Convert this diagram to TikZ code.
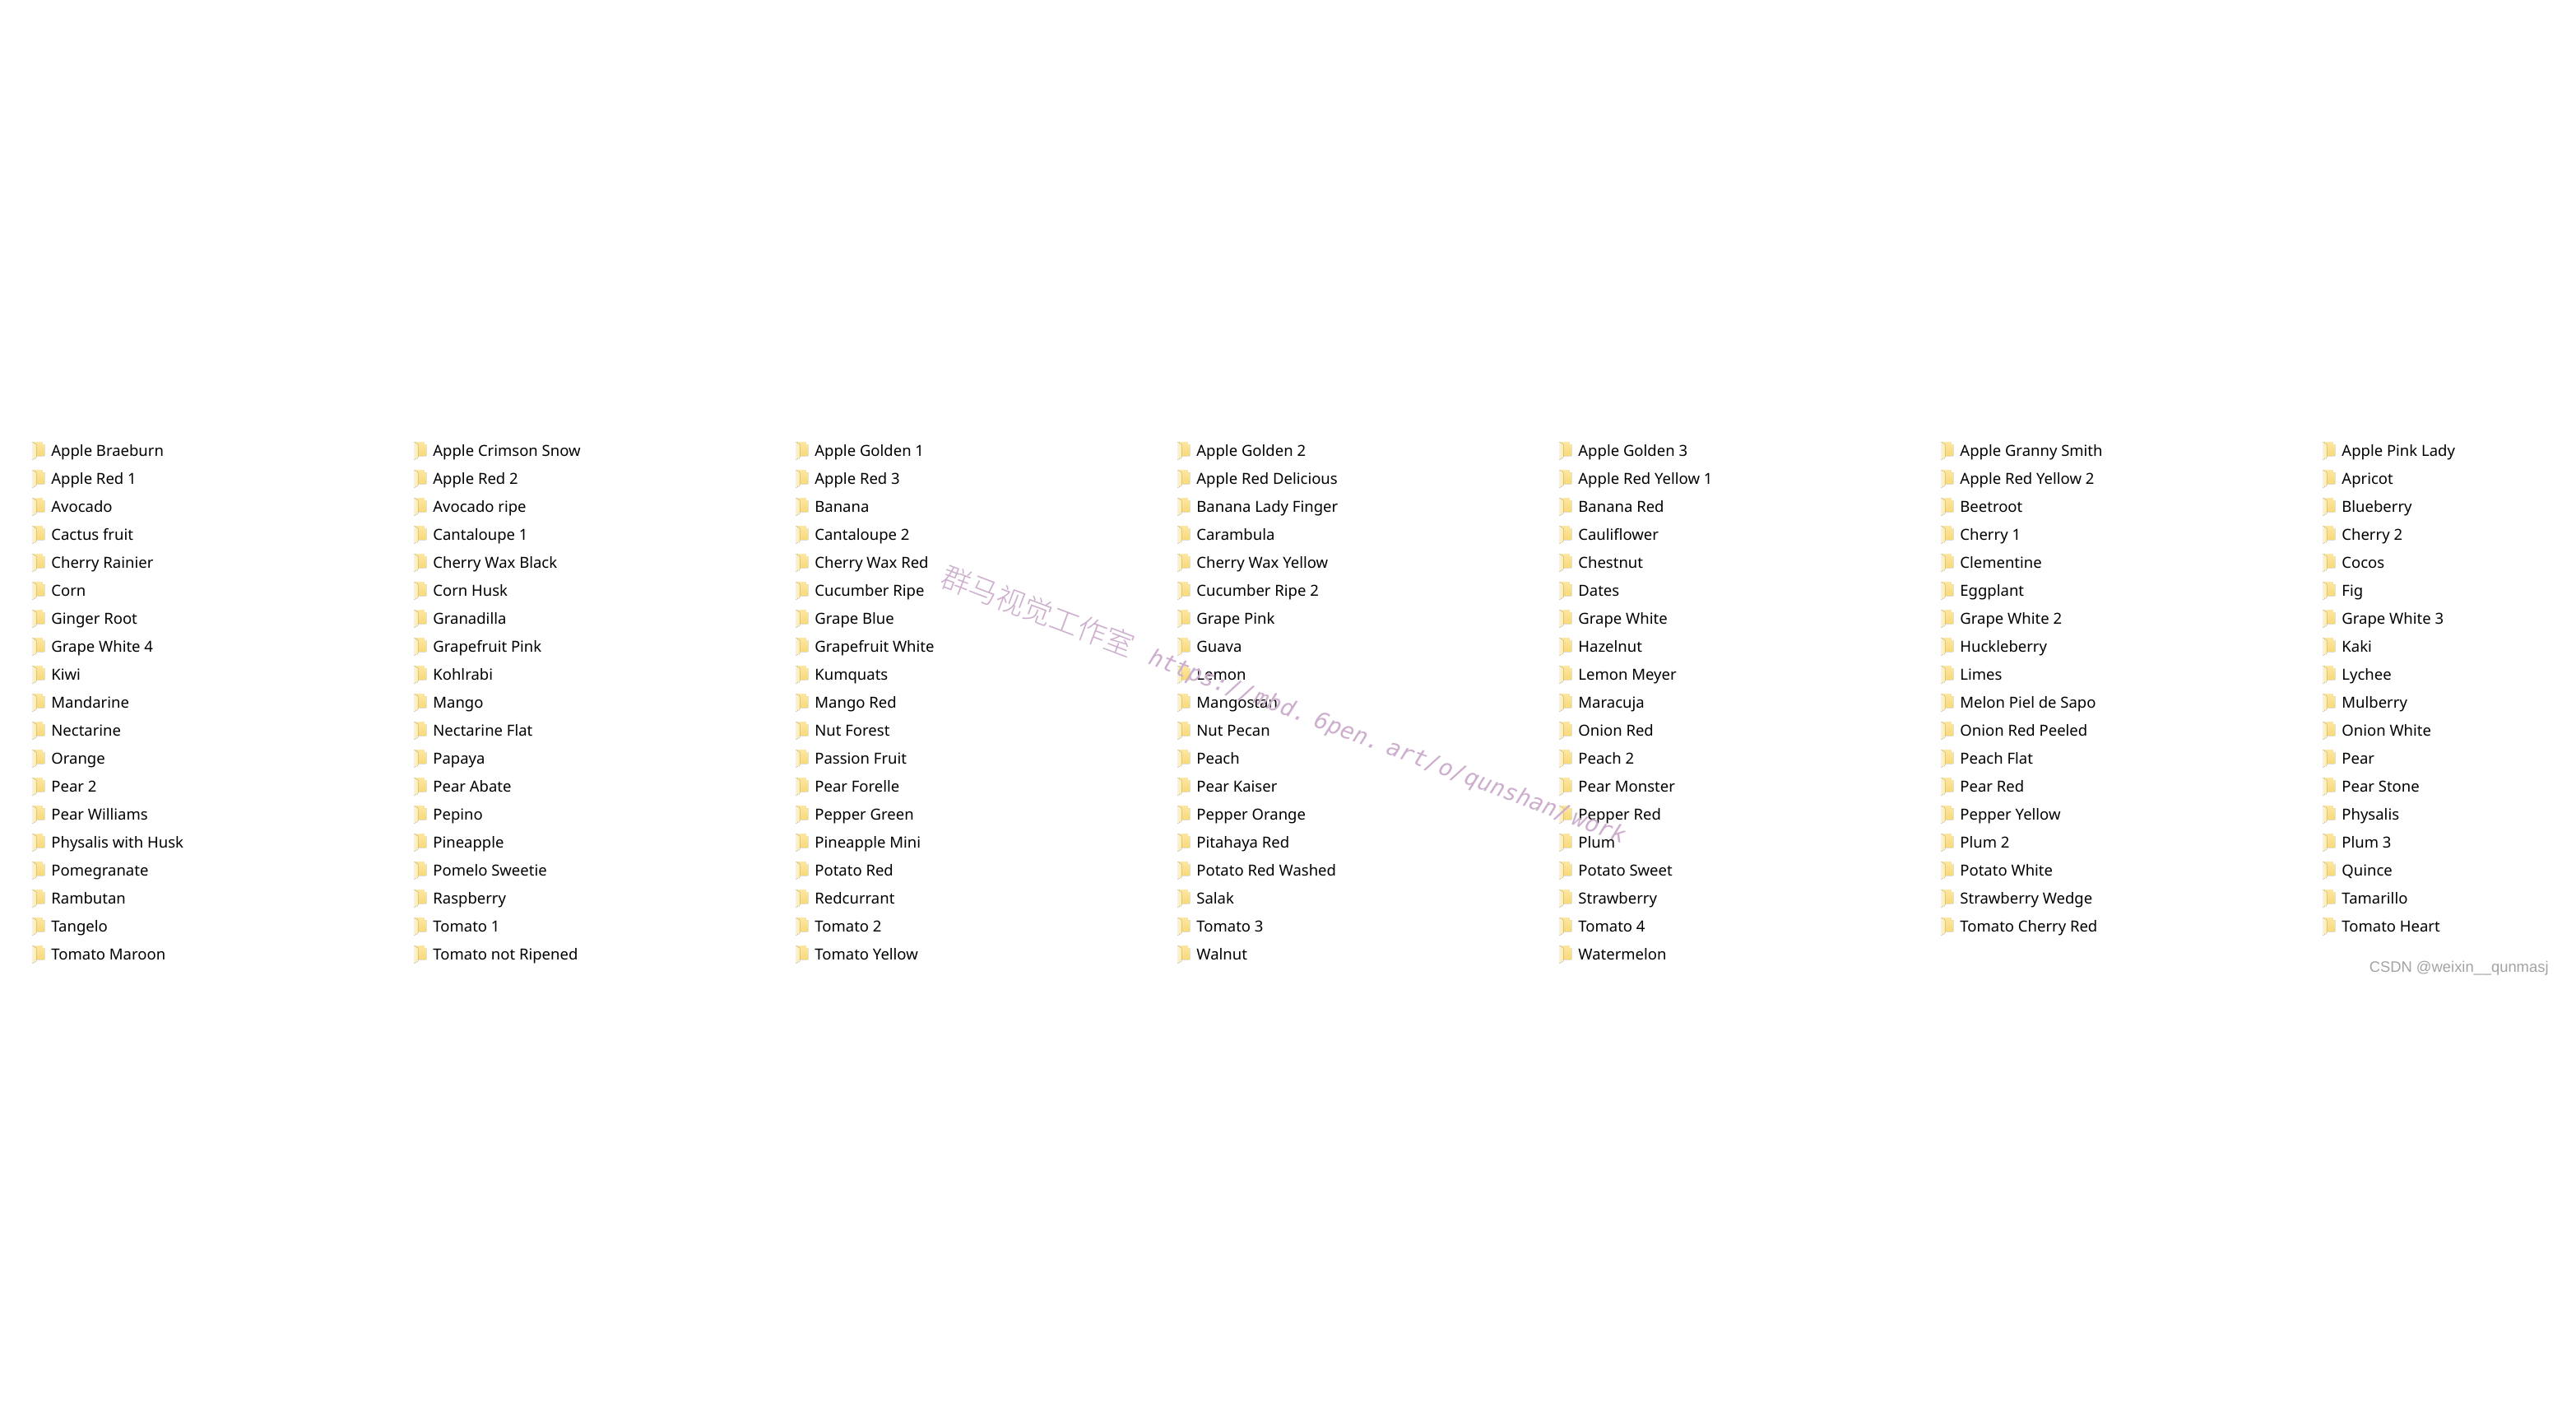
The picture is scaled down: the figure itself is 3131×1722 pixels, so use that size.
\documentclass[tikz,border=0pt]{standalone}
\usepackage{fontspec}
\usepackage{xcolor}
\setmainfont{Noto Sans}
\setmonofont{DejaVu Sans Mono}
\newfontfamily\cjkfont{Noto Sans CJK SC}[UprightFont=* Light]
\newfontfamily\csdnfont{Liberation Sans}
\definecolor{folderback}{HTML}{F9D877}
\definecolor{foldertop}{HTML}{FDE7A3}
\definecolor{folderpale}{HTML}{FFF3C9}
\definecolor{folderlight}{HTML}{FFEAAC}
\definecolor{markcolor}{HTML}{CDAECD}
\definecolor{csdncolor}{HTML}{A3A3A3}
\tikzset{
  fruit/.style={anchor=base west,inner sep=0pt,font=\fontsize{9.25}{11}\selectfont,text=black},
  mark cjk/.style={anchor=base west,inner sep=0pt,rotate=-20.8,text=markcolor,font=\cjkfont\fontsize{17.7}{20}\selectfont},
  mark url/.style={anchor=base west,inner sep=0pt,rotate=-20.8,text=markcolor,font=\ttfamily\itshape\fontsize{14}{16}\selectfont},
  folder/.pic={
    \fill [top color=foldertop,bottom color=folderback] (0,0) -- (12,0) -- (12,3) -- (15,3) -- (15,17) -- (0,17) -- cycle;
    \fill [left color=folderpale,right color=folderlight] (0,0) -- (5,3) -- (5,19) -- (0,22) -- cycle;
  }
}
\begin{document}
\begin{tikzpicture}[x=0.5pt,y=-0.5pt]
      \useasboundingbox (0,0) rectangle (3131,1722);
      \fill [white] (0,0) rectangle (3131,1722);
      \foreach \items [count=\c] in {
        {Apple Braeburn,Apple Red 1,Avocado,Cactus fruit,Cherry Rainier,Corn,Ginger Root,Grape White 4,Kiwi,Mandarine,Nectarine,Orange,Pear 2,Pear Williams,Physalis with Husk,Pomegranate,Rambutan,Tangelo,Tomato Maroon},
        {Apple Crimson Snow,Apple Red 2,Avocado ripe,Cantaloupe 1,Cherry Wax Black,Corn Husk,Granadilla,Grapefruit Pink,Kohlrabi,Mango,Nectarine Flat,Papaya,Pear Abate,Pepino,Pineapple,Pomelo Sweetie,Raspberry,Tomato 1,Tomato not Ripened},
        {Apple Golden 1,Apple Red 3,Banana,Cantaloupe 2,Cherry Wax Red,Cucumber Ripe,Grape Blue,Grapefruit White,Kumquats,Mango Red,Nut Forest,Passion Fruit,Pear Forelle,Pepper Green,Pineapple Mini,Potato Red,Redcurrant,Tomato 2,Tomato Yellow},
        {Apple Golden 2,Apple Red Delicious,Banana Lady Finger,Carambula,Cherry Wax Yellow,Cucumber Ripe 2,Grape Pink,Guava,Lemon,Mangostan,Nut Pecan,Peach,Pear Kaiser,Pepper Orange,Pitahaya Red,Potato Red Washed,Salak,Tomato 3,Walnut},
        {Apple Golden 3,Apple Red Yellow 1,Banana Red,Cauliflower,Chestnut,Dates,Grape White,Hazelnut,Lemon Meyer,Maracuja,Onion Red,Peach 2,Pear Monster,Pepper Red,Plum,Potato Sweet,Strawberry,Tomato 4,Watermelon},
        {Apple Granny Smith,Apple Red Yellow 2,Beetroot,Cherry 1,Clementine,Eggplant,Grape White 2,Huckleberry,Limes,Melon Piel de Sapo,Onion Red Peeled,Peach Flat,Pear Red,Pepper Yellow,Plum 2,Potato White,Strawberry Wedge,Tomato Cherry Red},
        {Apple Pink Lady,Apricot,Blueberry,Cherry 2,Cocos,Fig,Grape White 3,Kaki,Lychee,Mulberry,Onion White,Pear,Pear Stone,Physalis,Plum 3,Quince,Tamarillo,Tomato Heart}}{
        \foreach \fruitname [count=\r] in \items {
          \pic at ({39+464*(\c-1)},{537+34*(\r-1)}) {folder};
          \node [fruit] (fruit\c-\r) at ({62+464*(\c-1)},{554+34*(\r-1)}) {\fruitname};
        }
      }
      \node [mark cjk] (markcjk) at (1141,711) {群马视觉工作室};
      \node [mark url] (markurl) at (1394,806) {https://\kern1pt{}mbd.\kern-3pt{} 6pen.\kern-3.5pt{} art/o/qunshan/\kern2.5pt{}work};
      \node [anchor=base east,inner sep=0pt,text=csdncolor,font=\csdnfont\fontsize{9.2}{11}\selectfont] (csdn) at (3098,1181) {CSDN @weixin\_\kern0.4pt\_qunmasj};
    \end{tikzpicture}
\end{document}
